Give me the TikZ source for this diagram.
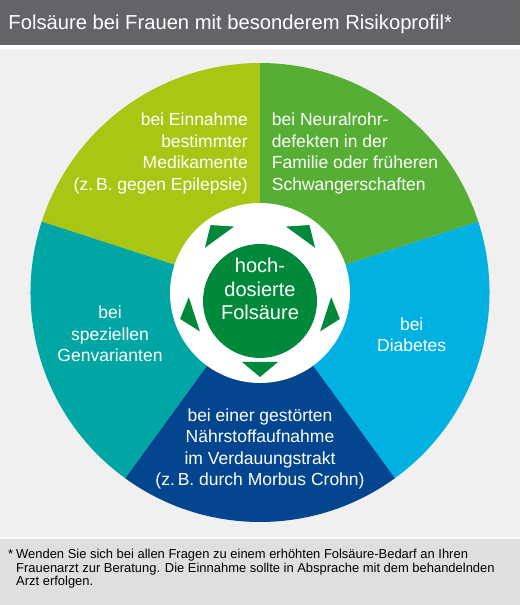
\documentclass[tikz,border=0pt]{standalone}
\usepackage{fontspec}
\setmainfont{Liberation Sans}
\definecolor{hdr}{HTML}{636468}
\definecolor{bgc}{HTML}{F0F0F0}
\definecolor{ftr}{HTML}{DFDFDF}
\definecolor{cyg}{HTML}{AAC614}
\definecolor{cgr}{HTML}{56AE35}
\definecolor{cbl}{HTML}{00B1E1}
\definecolor{cnv}{HTML}{03458F}
\definecolor{ctl}{HTML}{00A6A4}
\definecolor{cdg}{HTML}{00893A}
\tikzset{
  wtext/.style={text=white, font=\fontsize{17.5}{21.5}\selectfont, inner sep=0pt},
  ctext/.style={text=white, font=\fontsize{20}{23.5}\selectfont, inner sep=0pt, align=center},
  ftext/.style={text=black, font=\fontsize{12.95}{13.3}\selectfont, inner sep=0pt},
}
\begin{document}
\begin{tikzpicture}[x=1pt,y=1pt]
\useasboundingbox (0,0) rectangle (520,605);
\fill[bgc] (0,0) rectangle (520,605);
% header
\fill[hdr] (0,559.5) rectangle (520,605);
\fill[white] (0,556) rectangle (520,559.5);
\node[text=white, font=\fontsize{20.2}{24}\selectfont, inner sep=0pt, anchor=base west] (title) at (8.3,575) {Folsäure bei Frauen mit besonderem Risikoprofil*};
% footer
\fill[white] (0,66) rectangle (520,68);
\fill[ftr] (0,0) rectangle (520,66);
\node[ftext, anchor=base west] (star) at (8,46) {*};
\node[ftext, anchor=base west, align=left] (foot) at (16,19.4) {Wenden Sie sich bei allen Fragen zu einem erhöhten Folsäure-Bedarf an Ihren\\Frauenarzt zur Beratung. Die Einnahme sollte in Absprache mit dem behandelnden\\Arzt erfolgen.};
% wheel
\coordinate (C) at (260,312.5);
\def\R{229.5}
\fill[cyg] (C) -- ++(90:\R) arc[start angle=90,end angle=162,radius=\R] -- cycle;
\fill[cgr] (C) -- ++(18:\R) arc[start angle=18,end angle=90,radius=\R] -- cycle;
\fill[cbl] (C) -- ++(-54:\R) arc[start angle=-54,end angle=18,radius=\R] -- cycle;
\fill[cnv] (C) -- ++(-126:\R) arc[start angle=-126,end angle=-54,radius=\R] -- cycle;
\fill[ctl] (C) -- ++(162:\R) arc[start angle=162,end angle=234,radius=\R] -- cycle;
\coordinate (W) at (260,312);
\fill[white] (W) circle[radius=90];
\foreach \a in {126,54,-18,-90,198}
  \fill[cdg, shift={(W)}, rotate=\a] (84,0) -- (69,18) -- (69,-18) -- cycle;
\node[circle, fill=cdg, minimum size=114pt, inner sep=0pt] (core) at (260,304) {};
\node[ctext, anchor=base] (coretext) at (260,285) {hoch-\\dosierte\\Folsäure};
% wedge texts (anchored at the baseline of the last line)
\node[wtext, anchor=base east, align=right] (tl) at (248,414.5) {bei Einnahme\\bestimmter\\Medikamente\\(z.\,B. gegen Epilepsie)};
\node[wtext, anchor=base west, align=left] (tr) at (271.7,414.5) {bei Neuralrohr-\\defekten in der\\Familie oder früheren\\Schwangerschaften};
\node[wtext, anchor=base, align=center] (lt) at (110,243) {bei\\speziellen\\Genvarianten};
\node[wtext, anchor=base, align=center] (rt) at (411.7,253) {bei\\Diabetes};
\node[wtext, anchor=base, align=center] (bt) at (260,119) {bei einer gestörten\\Nährstoffaufnahme\\im Verdauungstrakt\\(z.\,B. durch Morbus Crohn)};
\end{tikzpicture}
\end{document}
